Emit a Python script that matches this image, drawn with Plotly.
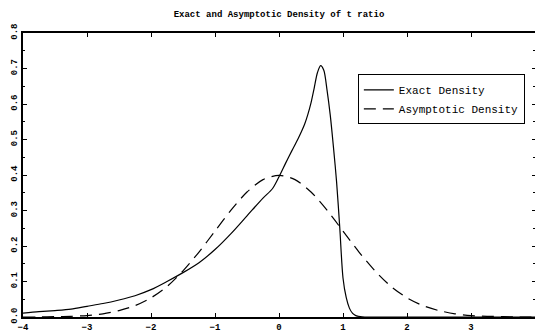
import plotly.graph_objects as go

# Exact density of t ratio
x_exact = [-4, -3.75, -3.5, -3.25, -3, -2.75, -2.5, -2.25, -2, -1.75, -1.5, -1.25, -1,
           -0.75, -0.5, -0.25, -0.1, 0, 0.1, 0.2, 0.3, 0.4, 0.45, 0.5, 0.55, 0.6, 0.65, 0.7,
           0.75, 0.8, 0.85, 0.9, 0.95, 1.0, 1.05, 1.1, 1.15, 1.2, 1.3, 1.5, 2, 3, 4]
y_exact = [0.011, 0.015, 0.018, 0.022, 0.030, 0.038, 0.048, 0.060, 0.077, 0.100, 0.125, 0.153, 0.190,
           0.235, 0.285, 0.335, 0.362, 0.395, 0.432, 0.468, 0.503, 0.543, 0.570, 0.603, 0.645, 0.688, 0.708, 0.695,
           0.640, 0.570, 0.480, 0.380, 0.250, 0.110, 0.055, 0.025, 0.010, 0.004, 0.0005, 0.0, 0.0, 0.0, 0.0]

# Asymptotic density
x_asym = [-4, -3.75, -3.5, -3.25, -3, -2.75, -2.5, -2.25, -2, -1.75, -1.5, -1.25, -1, -0.75, -0.5, -0.25,
          0, 0.25, 0.5, 0.75, 1, 1.25, 1.5, 1.75, 2, 2.25, 2.5, 2.75, 3, 3.25, 3.5, 3.75, 4]
y_asym = [0.000, 0.000, 0.001, 0.002, 0.004, 0.009, 0.018, 0.032, 0.054, 0.086, 0.130, 0.183, 0.242,
          0.301, 0.352, 0.387, 0.399, 0.387, 0.352, 0.301, 0.242, 0.183, 0.130, 0.086, 0.054, 0.032,
          0.018, 0.009, 0.004, 0.002, 0.001, 0.000, 0.000]

x_ticks = [-4, -3, -2, -1, 0, 1, 2, 3, 4]
y_ticks = [0.0, 0.1, 0.2, 0.3, 0.4, 0.5, 0.6, 0.7, 0.8]

fig = go.Figure()
fig.add_trace(go.Scatter(x=x_exact, y=y_exact, mode="lines", name="Exact Density",
                         line=dict(color="black", width=1.2, shape="spline", smoothing=0.8)))
fig.add_trace(go.Scatter(x=x_asym, y=y_asym, mode="lines", name="Asymptotic Density",
                         line=dict(color="black", width=1.2, dash="12px,7px", shape="spline", smoothing=0.8)))
fig.add_trace(go.Scatter(x=x_asym, y=y_asym, yaxis="y2", mode="lines", showlegend=False,
                         hoverinfo="skip", line=dict(color="rgba(0,0,0,0)", width=0)))

tickfont = dict(family="Liberation Mono", size=9, color="black", weight="bold")

fig.update_layout(
    width=537, height=335,
    margin=dict(l=23, r=2, t=33, b=14),
    paper_bgcolor="white", plot_bgcolor="white",
    title=dict(text="<b>Exact and Asymptotic Density of t ratio</b>",
               font=dict(family="Liberation Mono", size=9, color="black"),
               x=0.5, xref="paper", xanchor="center", y=0.958, yanchor="middle"),
    xaxis=dict(range=[-4, 4], tickvals=x_ticks, ticks="inside", ticklen=4, tickwidth=1,
               tickcolor="black", showline=True, linewidth=2, linecolor="black", mirror="ticks",
               showgrid=False, zeroline=False, tickfont=tickfont, ticklabelstandoff=0),
    yaxis=dict(range=[0, 0.8], tickvals=y_ticks, tickformat=".1f", ticks="inside", ticklen=4,
               tickwidth=1, tickcolor="black", showline=True, linewidth=2, linecolor="black",
               showgrid=False, zeroline=False, tickangle=-90, tickfont=tickfont,
               minor=dict(ticks="inside", dtick=0.05, ticklen=2, tickcolor="black", showgrid=False)),
    yaxis2=dict(range=[0, 0.8], overlaying="y", side="right", anchor="x", tickvals=y_ticks,
                ticks="inside", ticklen=3, tickwidth=1, tickcolor="black", showline=False,
                showgrid=False, zeroline=False, showticklabels=False,
                minor=dict(ticks="inside", dtick=0.05, ticklen=2, tickcolor="black", showgrid=False)),
    legend=dict(x=0.654, y=0.854, xanchor="left", yanchor="top", bgcolor="white",
                bordercolor="black", borderwidth=1,
                font=dict(family="Liberation Mono", size=11, color="black"),
                itemwidth=30, tracegroupgap=0),
    showlegend=True,
)

fig.write_html("out.html")
